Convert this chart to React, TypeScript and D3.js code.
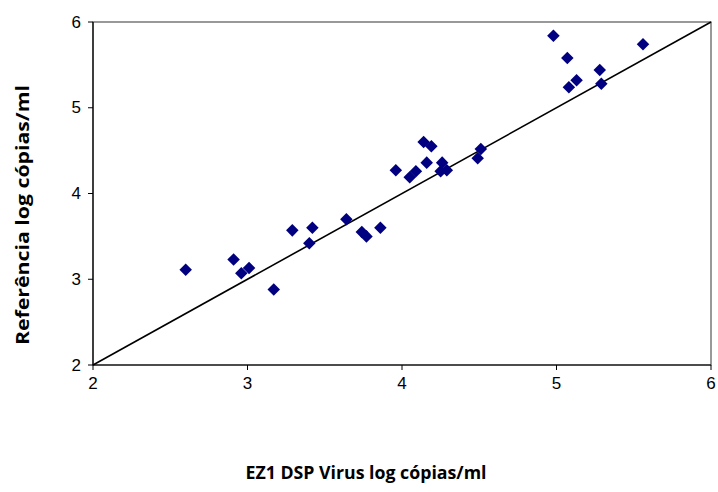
import React from "react";
import * as d3 from "d3";

const xValues = [2.60, 2.91, 2.96, 3.01, 3.17, 3.29, 3.40, 3.42, 3.64, 3.74, 3.77, 3.86, 3.96, 4.05, 4.09, 4.14, 4.19, 4.16, 4.26, 4.25, 4.29, 4.49, 4.51, 4.98, 5.07, 5.56, 5.28, 5.13, 5.08, 5.29];
const yValues = [3.11, 3.23, 3.07, 3.13, 2.88, 3.57, 3.42, 3.60, 3.70, 3.55, 3.50, 3.60, 4.27, 4.19, 4.26, 4.60, 4.55, 4.36, 4.36, 4.26, 4.27, 4.41, 4.52, 5.84, 5.58, 5.74, 5.44, 5.32, 5.24, 5.28];
const xTicks = [2, 3, 4, 5, 6];
const yTicks = [2, 3, 4, 5, 6];
const xTitle = "EZ1 DSP Virus log cópias/ml";
const yTitle = "Referência log cópias/ml";

export default function App() {
  const W = 718, H = 492;
  const left = 93, right = 711, top = 22, bottom = 365;
  const x = d3.scaleLinear().domain([2, 6]).range([left, right]);
  const y = d3.scaleLinear().domain([2, 6]).range([bottom, top]);
  const line = d3.line<number>().x((d) => x(d)).y((d) => y(d));
  const diamond = d3.symbol().type(d3.symbolDiamond2).size(100)();
  const tickFont = "'Liberation Sans', Arial, sans-serif";
  const titleFont = "'Open Sans', 'DejaVu Sans', sans-serif";
  return (
    <svg width={W} height={H} style={{ position: "absolute", left: 0, top: 0, background: "#fff" }}>
      <rect x={left} y={top} width={right - left} height={bottom - top} fill="#fff" stroke="#555" strokeWidth={1.2} />
      <line x1={left} x2={left} y1={top} y2={bottom} stroke="#000" strokeWidth={1.2} />
      <line x1={left} x2={right} y1={bottom} y2={bottom} stroke="#000" strokeWidth={1.2} />
      {xTicks.map((t) => (
        <g key={"x" + t}>
          <line x1={x(t)} x2={x(t)} y1={bottom} y2={bottom + 5} stroke="#000" />
          <text x={x(t)} y={bottom + 12} textAnchor="middle" dominantBaseline="hanging" fontFamily={tickFont} fontSize={17}>{t}</text>
        </g>
      ))}
      {yTicks.map((t) => (
        <g key={"y" + t}>
          <line x1={left - 5} x2={left} y1={y(t)} y2={y(t)} stroke="#000" />
          <text x={left - 12} y={y(t)} textAnchor="end" dominantBaseline="central" fontFamily={tickFont} fontSize={17}>{t}</text>
        </g>
      ))}
      <path d={line([2, 6]) || ""} stroke="#000" strokeWidth={1.6} fill="none" />
      {xValues.map((v, i) => (
        <path key={i} d={diamond || ""} transform={`translate(${x(v)},${y(yValues[i])})`} fill="#000080" />
      ))}
      <text x={366} y={472} textAnchor="middle" dominantBaseline="central" fontFamily={titleFont} fontWeight="bold" fontSize={18} textLength={241} lengthAdjust="spacingAndGlyphs">{xTitle}</text>
      <text transform={`translate(22,215) rotate(-90)`} textAnchor="middle" dominantBaseline="central" fontFamily={titleFont} fontWeight="bold" fontSize={18} textLength={260} lengthAdjust="spacingAndGlyphs">{yTitle}</text>
    </svg>
  );
}
